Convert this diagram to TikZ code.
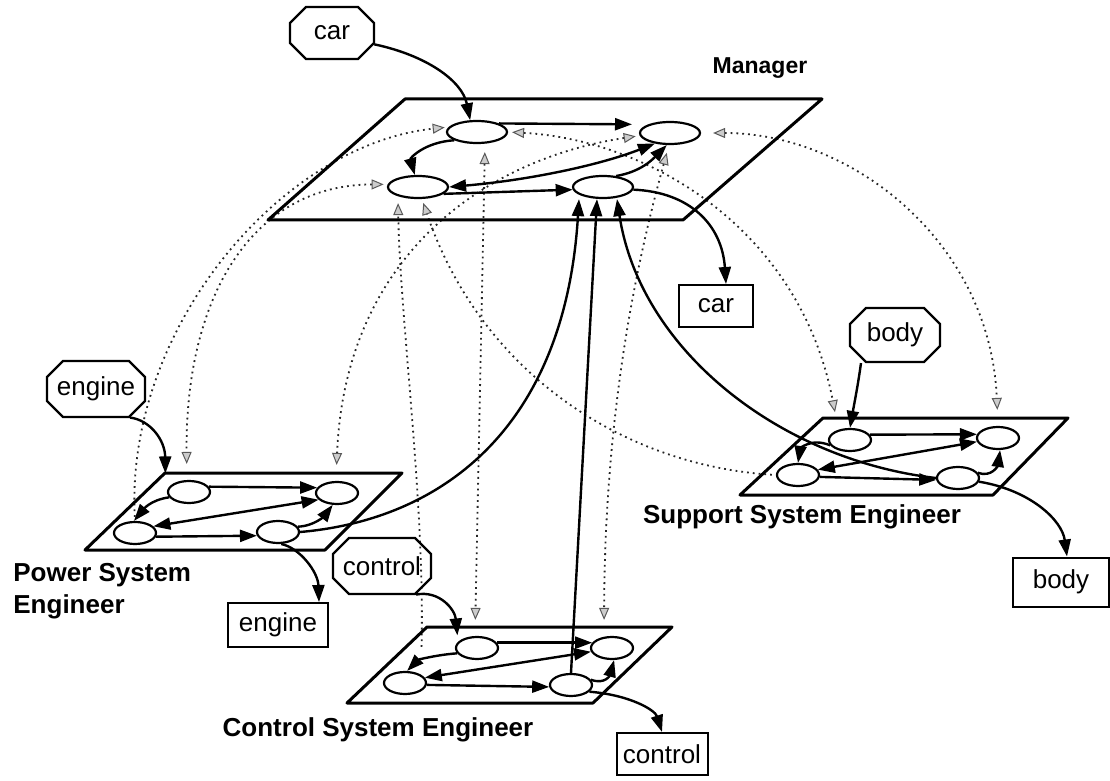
\documentclass[tikz,border=0pt]{standalone}
\usepackage{fontspec}
\setmainfont{Liberation Sans}
\usetikzlibrary{arrows.meta,shapes.geometric,shapes.misc,backgrounds}
\tikzset{gt/.tip={Triangle[length=6pt,width=5pt,color=black!65,fill=gray!40,line width=0.5pt]}}

\begin{document}
\begin{tikzpicture}[x=0.5pt,y=-0.5pt,>={Triangle[length=8.5pt,width=6pt]},
    plane/.style={line width=1.5pt,line join=round},
    proc/.style={ellipse,draw,fill=white,line width=1.1pt,minimum width=21pt,minimum height=11pt,inner sep=0pt},
    mproc/.style={proc,minimum width=30pt},
    flowarr/.style={line width=1.2pt,->},
    dualarr/.style={line width=1.2pt,<->},
    share/.style={dotted,line width=0.9pt,black!85,shorten >=2pt,shorten <=2pt},
    inflag/.style={chamfered rectangle,draw,line width=1.1pt,chamfered rectangle xsep=4pt,chamfered rectangle ysep=4pt,inner sep=1pt,font=\fontsize{13}{14}\selectfont},
    outbox/.style={draw,line width=1pt,inner sep=0pt,font=\fontsize{13}{14}\selectfont},
    role/.style={font=\bfseries\fontsize{13}{16}\selectfont,inner sep=0pt}]
    \useasboundingbox (0,0) rectangle (1110,781);

    \draw[plane] (405,99) -- (822,99) -- (683,220) -- (268,220) -- cycle;
    \draw[plane] (165,473) -- (402,473) -- (325,550) -- (85,550) -- cycle;
    \draw[plane] (427,627) -- (672,627) -- (593,703) -- (347,703) -- cycle;
    \draw[plane] (823,418) -- (1068,418) -- (993,495) -- (740,495) -- cycle;

    \node[mproc] (mTL) at (477,132) {};
    \node[mproc] (mTR) at (670,133) {};
    \node[mproc] (mBL) at (418,187) {};
    \node[mproc] (mBR) at (603,187) {};
    \foreach \p/\tx/\ty/\rx/\ry/\bx/\by/\cx/\cy in {p/189/492/337/493/135/533/278/532,
        c/477/648/612/648/405/683/571/685, s/850/440/998/438/798/475/958/478}{
        \node[proc] (\p TL) at (\tx,\ty) {};
        \node[proc] (\p TR) at (\rx,\ry) {};
        \node[proc] (\p BL) at (\bx,\by) {};
        \node[proc] (\p BR) at (\cx,\cy) {};
    }

    \node[role,font=\bfseries\fontsize{11.5}{13}\selectfont] (mgrLabel) at (760,68) {Manager};
    \node[role,align=left,anchor=north west] (pwrLabel) at (13,563) {Power System\\Engineer};
    \node[role] (ctlLabel) at (378,730) {Control System Engineer};
    \node[role] (supLabel) at (802,517) {Support System Engineer};

    \node[inflag,minimum width=42pt,minimum height=26pt] (carIn) at (332,33) {car};
    \node[inflag,minimum width=44pt,minimum height=28pt] (engineIn) at (96,389) {engine};
    \node[inflag,minimum width=45pt,minimum height=28pt] (controlIn) at (382,566) {control};
    \node[inflag,minimum width=45pt,minimum height=27pt] (bodyIn) at (895,335) {body};

    \node[outbox,minimum width=37pt,minimum height=21pt] (carOut) at (716,306) {car};
    \node[outbox,minimum width=50pt,minimum height=22pt] (engineOut) at (278,625) {engine};
    \node[outbox,minimum width=45.5pt,minimum height=21pt] (controlOut) at (662,754) {control};
    \node[outbox,minimum width=48pt,minimum height=24.5pt] (bodyOut) at (1061,582) {body};

    \draw[flowarr] (carIn.-15) .. controls (425,55) and (462,80) .. (mTL.120);
    \draw[flowarr,shorten >=8pt] (mTL.north east) -- (mTR.north west);
    \draw[flowarr] (mTL.200) .. controls (425,142) and (410,158) .. (mBL.105);
    \draw[dualarr] (mBL.east) .. controls (530,180) and (600,165) .. (mTR.215);
    \draw[flowarr] (mBL.-15) -- (mBR.185);
    \draw[flowarr] (mBR.40) .. controls (640,172) and (652,160) .. (mTR.-105);
    \draw[flowarr] (mBR.-5) .. controls (690,192) and (722,225) .. ([xshift=5pt]carOut.north);

    \draw[flowarr] (engineIn.-40) .. controls (150,420) and (165,440) .. ([xshift=-4pt,yshift=5pt]pTL.north west);
    \draw[flowarr] (pTL.15) -- (pTR.165);
    \draw[flowarr] (pTL.195) .. controls (150,500) and (143,510) .. (pBL.95);
    \draw[dualarr] (pBL.20) -- (pTR.200);
    \draw[flowarr] (pBL.-10) -- (pBR.190);
    \draw[flowarr] (pBR.15) .. controls (315,526) and (325,515) .. (pTR.-110);
    \draw[flowarr] (pBR.-75) .. controls (300,548) and (318,572) .. ([xshift=-5pt]engineOut.north east);

    \draw[flowarr] (controlIn.-40) .. controls (440,590) and (455,610) .. ([xshift=-2pt,yshift=2pt]cTL.north west);
    \draw[flowarr] (cTL.15) -- (cTR.165);
    \draw[flowarr] (cTL.195) .. controls (435,655) and (418,660) .. (cBL.80);
    \draw[dualarr] (cBL.15) -- (cTR.190);
    \draw[flowarr] (cBL.-5) -- (cBR.185);
    \draw[flowarr] (cBR.15) .. controls (605,685) and (610,675) .. (cTR.-80);
    \draw[flowarr] (cBR.-20) .. controls (630,695) and (655,710) .. (controlOut.north);

    \draw[flowarr] ([xshift=-17pt]bodyIn.south) .. controls (858,385) and (854,405) .. (sTL.north);
    \draw[flowarr] (sTL.15) -- (sTR.170);
    \draw[flowarr] (sTL.195) .. controls (810,437) and (800,450) .. (sBL.90);
    \draw[dualarr] (sBL.15) -- (sTR.190);
    \draw[flowarr] (sBL.-5) -- (sBR.185);
    \draw[flowarr] (sBR.15) .. controls (992,478) and (998,465) .. (sTR.-80);
    \draw[flowarr] (sBR.-10) .. controls (1030,490) and (1062,520) .. ([xshift=3pt]bodyOut.north);

    \draw[flowarr] (pBR.east) .. controls (440,520) and (565,430) .. ([xshift=-12pt]mBR.south);
    \draw[flowarr] (cBR.north) -- ([xshift=-3pt]mBR.south);
    \draw[flowarr] (sBR.west) .. controls (780,460) and (640,350) .. ([xshift=7pt]mBR.south);

    \begin{scope}[on background layer]
        \draw[share,-gt] (pBL.north) .. controls (125,330) and (280,145) .. (mTL.170);
        \draw[share,gt-gt,shorten >=8pt] (mBL.175) .. controls (250,185) and (185,300) .. (pTL.100);
        \draw[share,gt-gt,shorten >=8pt] (mTR.185) .. controls (480,160) and (345,260) .. (pTR.95);
        \draw[share,-gt,shorten <=12pt] ([xshift=8pt]cBL.north) .. controls (425,500) and (400,320) .. ([xshift=-10pt]mBL.south);
        \draw[share,gt-gt,shorten >=8pt,shorten <=4pt] ([xshift=4pt]mTL.south) -- ([xshift=-1pt]cTL.north);
        \draw[share,gt-gt,shorten >=8pt,shorten <=4pt] (mTR.-95) .. controls (640,250) and (605,400) .. ([xshift=-4pt]cTR.north);
        \draw[share,-gt] (sBL.west) .. controls (620,465) and (480,370) .. ([xshift=2pt]mBL.south);
        \draw[share,gt-gt,shorten >=8pt] (mTL.east) .. controls (650,140) and (800,230) .. ([xshift=-6pt]sTL.north);
        \draw[share,gt-gt,shorten >=8pt,shorten <=6pt] (mTR.east) .. controls (850,133) and (990,240) .. (sTR.north);
    \end{scope}
\end{tikzpicture}
\end{document}
